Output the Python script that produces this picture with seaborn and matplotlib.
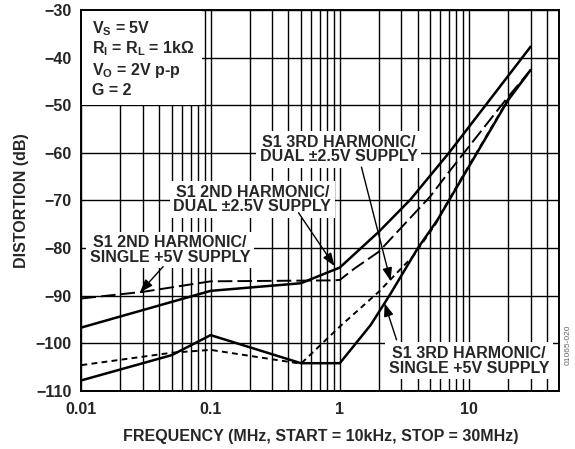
import numpy as np
import seaborn as sns
import pandas as pd
import matplotlib.pyplot as plt
from matplotlib.patches import Rectangle

# frequency (MHz) and distortion (dB)
f_2nd_dual = [0.01, 0.1, 0.5, 1.0, 2.0, 3.5, 7.0, 30.0]
d_2nd_dual = [-96.7, -89.0, -87.4, -84.1, -76.6, -69.9, -60.0, -37.7]

f_2nd_single = [0.01, 0.03, 0.1, 0.9, 1.0, 1.3, 2.0, 5.0, 7.0, 20.0, 30.0]
d_2nd_single = [-90.6, -89.2, -87.0, -86.8, -86.7, -84.3, -80.8, -69.2, -64.0, -48.3, -42.6]

f_3rd_single = [0.01, 0.05, 0.1, 0.5, 1.0, 1.73, 2.47, 4.0, 5.7, 7.0, 20.0, 30.0]
d_3rd_single = [-107.8, -102.5, -98.3, -104.2, -104.2, -96.2, -89.6, -80.1, -74.1, -70.0, -49.0, -42.6]

f_3rd_dual = [0.01, 0.05, 0.1, 0.5, 1.0, 2.0, 3.75, 5.5, 7.0, 20.0, 30.0]
d_3rd_dual = [-104.6, -102.0, -101.4, -104.3, -96.5, -89.2, -81.5, -75.0, -69.8, -48.8, -42.6]

x_ticks = [0.01, 0.1, 1, 10]
x_tick_labels = ["0.01", "0.1", "1", "10"]
y_ticks = [-110, -100, -90, -80, -70, -60, -50, -40, -30]

frames = []
for name, f, d in [("2nd_dual", f_2nd_dual, d_2nd_dual),
                   ("2nd_single", f_2nd_single, d_2nd_single),
                   ("3rd_single", f_3rd_single, d_3rd_single),
                   ("3rd_dual", f_3rd_dual, d_3rd_dual)]:
    frames.append(pd.DataFrame({"freq": f, "dist": d, "series": name}))
data = pd.concat(frames, ignore_index=True)

sns.set_style("white")
plt.rcParams['font.family'] = ['Liberation Sans', 'DejaVu Sans']
plt.rcParams['font.weight'] = 'bold'
plt.rcParams['mathtext.fontset'] = 'custom'
plt.rcParams['mathtext.rm'] = 'Liberation Sans:bold'
plt.rcParams['mathtext.it'] = 'Liberation Sans:bold'
plt.rcParams['mathtext.bf'] = 'Liberation Sans:bold'

FS = 11.5

fig = plt.figure(figsize=(5.75, 4.49), dpi=100)
ax = fig.add_axes([0.1417, 0.1296, 0.8310, 0.8481])

palette = {"2nd_dual": "black", "2nd_single": "black", "3rd_single": "black", "3rd_dual": "black"}
dashes = {"2nd_dual": "", "2nd_single": (7.5, 2.6), "3rd_single": "", "3rd_dual": (3.0, 2.2)}
sns.lineplot(data=data, x="freq", y="dist", hue="series", style="series",
             palette=palette, dashes=dashes, sort=False, estimator=None,
             legend=False, ax=ax, zorder=3)
for line in ax.lines:
    if line.get_linestyle() == '-':
        line.set_linewidth(1.8)
    else:
        line.set_linewidth(1.4)

ax.set_xscale('log')
ax.set_xlim(0.01, 50)
ax.set_ylim(-110, -30)
ax.set_xticks(x_ticks)
ax.set_xticklabels(x_tick_labels)
ax.set_yticks(y_ticks)
ax.set_yticklabels([f"\u2212{abs(v)}" for v in y_ticks])
ax.tick_params(which='both', length=0, labelsize=FS)
ax.tick_params(axis='y', pad=7)
ax.tick_params(axis='x', pad=8)

# grid
ax.set_axisbelow(True)
ax.grid(which='major', axis='both', color='black', lw=1.0)
ax.grid(which='minor', axis='x', color='black', lw=1.0)
for s in ax.spines.values():
    s.set_linewidth(1.4)
    s.set_color('black')

ax.set_xlabel("FREQUENCY (MHz, START = 10kHz, STOP = 30MHz)", fontsize=FS, fontweight='bold', labelpad=9)
ax.set_ylabel("DISTORTION (dB)", fontsize=FS, fontweight='bold', labelpad=5)

# condition box top left
ax.add_patch(Rectangle((0, 0.7505), 0.2516, 0.2495, transform=ax.transAxes,
                       facecolor='white', edgecolor='none', zorder=2))
cond = [r"V$_{\mathrm{S}}$ = 5V", r"R$_{\mathrm{I}}$ = R$_{\mathrm{L}}$ = 1k$\Omega$",
        r"V$_{\mathrm{O}}$ = 2V p-p", "G = 2"]
for txt, yy in zip(cond, [0.9388, 0.8863, 0.8293, 0.7768]):
    ax.text(0.022, yy, txt, transform=ax.transAxes, fontsize=FS, fontweight='bold',
            va='baseline', ha='left', zorder=4)

box = dict(facecolor='white', edgecolor='none', pad=2.5)
labels = [("S1 3RD HARMONIC/\nDUAL \u00b12.5V SUPPLY", 0.977, -59.3),
          ("S1 2ND HARMONIC/\nDUAL \u00b12.5V SUPPLY", 0.21, -69.8),
          ("S1 2ND HARMONIC/\nSINGLE +5V SUPPLY", 0.0486, -80.4),
          ("S1 3RD HARMONIC/\nSINGLE +5V SUPPLY", 9.96, -103.7)]
for txt, x, y in labels:
    ax.text(x, y, txt, fontsize=FS, fontweight='bold', ha='center', va='center',
            linespacing=0.98, bbox=box, zorder=4)

# arrows from labels to curves
arrows = [((0.0429, -83.9), (0.0284, -89.3)),
          ((0.479, -72.6), (0.91, -83.8)),
          ((1.47, -63.0), (2.47, -86.9)),
          ((2.75, -99.3), (2.22, -91.6))]
for start, tip in arrows:
    ax.annotate("", xy=tip, xytext=start,
                arrowprops=dict(arrowstyle='-|>,head_length=0.6,head_width=0.22',
                                color='black', lw=1.0,
                                mutation_scale=13, shrinkA=0, shrinkB=0),
                zorder=5)

fig.text(568 / 575, 1 - 345 / 449, "01065-020", rotation=90, fontsize=6,
         color='#666666', fontweight='normal', ha='center', va='center')

plt.savefig("out.png", dpi=100)
